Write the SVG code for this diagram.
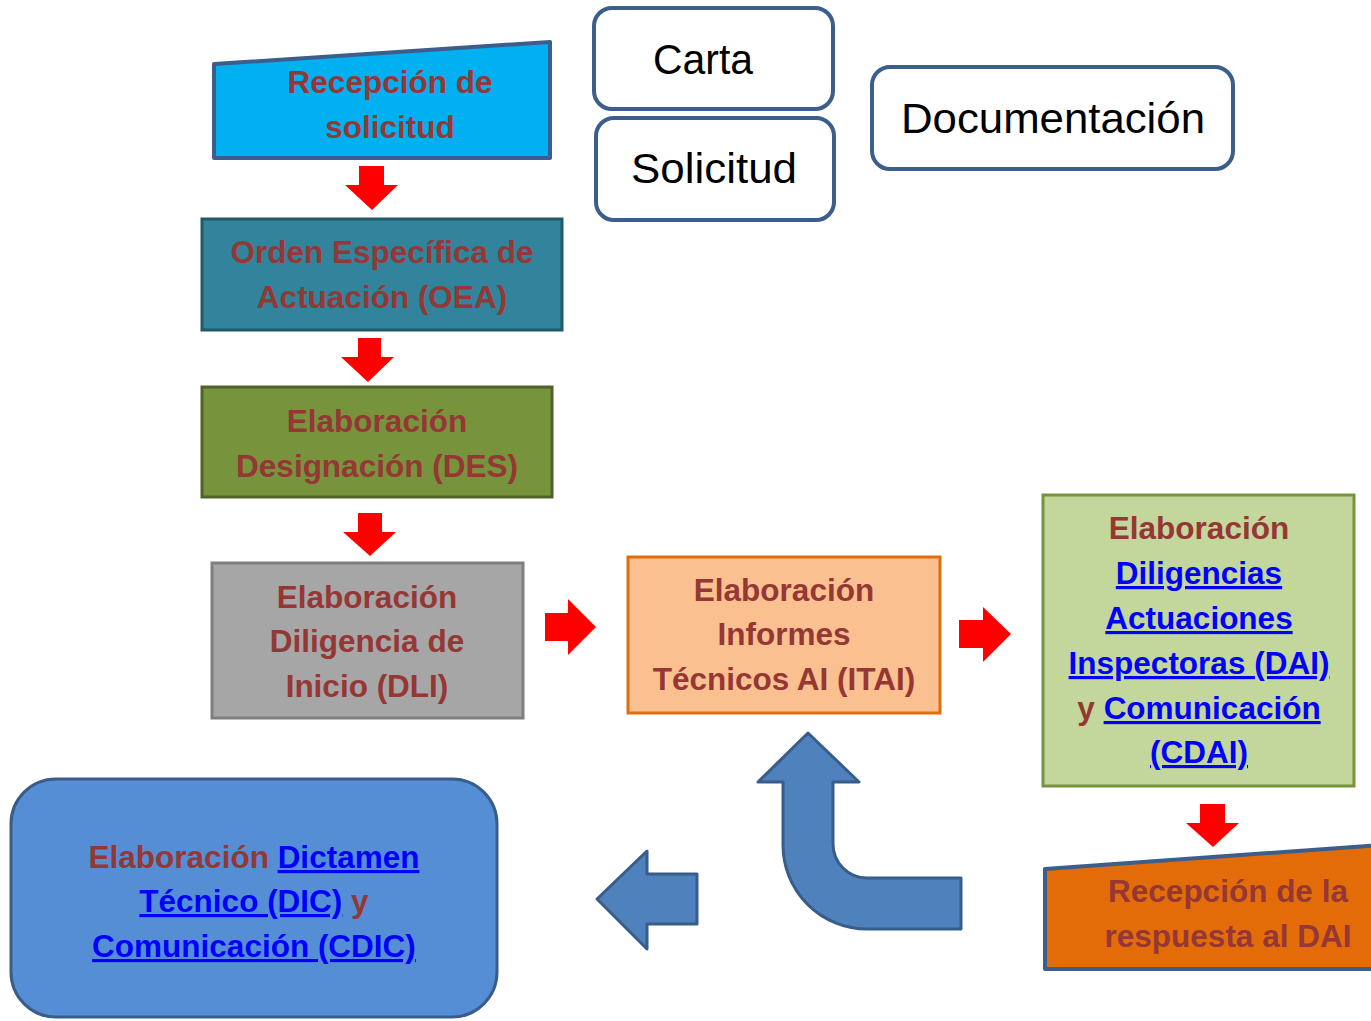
<svg xmlns="http://www.w3.org/2000/svg" width="1371" height="1021" viewBox="0 0 1371 1021">
<style>
.lbl{font-family:"Liberation Sans",Arial,sans-serif;font-weight:bold;font-size:31.5px;fill:#953735;text-anchor:middle}
.plain{font-family:"Liberation Sans",Arial,sans-serif;font-size:42px;fill:#000;text-anchor:middle}
.lnk{fill:#0000ff;text-decoration:underline}
.red{fill:#ff0000}
.doc{fill:#fff;stroke:#3b5e8c;stroke-width:4}
.blu{fill:#4f81bd;stroke:#385d8a;stroke-width:3;stroke-linejoin:round}
</style>
<rect width="1371" height="1021" fill="#fff"/>

<g id="connectors">
  <polygon class="red" points="359,166 384,166 384,185 398,185 372,210 345,185 359,185"/>
  <polygon class="red" points="358,338 381,338 381,357 394,357 368,382 341,357 358,357"/>
  <polygon class="red" points="358,513 382,513 382,532 396,532 370,556 343,532 358,532"/>
  <polygon class="red" points="545,613 568,613 568,599 596,627 568,655 568,641 545,641"/>
  <polygon class="red" points="959,620 983,620 983,607 1011,634 983,662 983,648 959,648"/>
  <polygon class="red" points="1200,804 1225,804 1225,823 1239,823 1213,847 1186,823 1200,823"/>
  <path class="blu" d="M808 733 L859 782 L833 782 L833 844 A34 34 0 0 0 867 878 L961 878 L961 929 L867 929 A84 84 0 0 1 783 845 L783 782 L758 782 Z"/>
  <polygon class="blu" points="597,899 647,851 647,874 697,874 697,924 647,924 647,949"/>
</g>

<g id="carta">
  <rect class="doc" x="594" y="8" width="239" height="101" rx="18"/>
  <text class="plain" x="703" y="74" textLength="100" lengthAdjust="spacingAndGlyphs">Carta</text>
</g>
<g id="solicitud">
  <rect class="doc" x="596" y="118" width="238" height="102" rx="18"/>
  <text class="plain" x="714" y="183" textLength="166" lengthAdjust="spacingAndGlyphs">Solicitud</text>
</g>
<g id="documentacion">
  <rect class="doc" x="872" y="67" width="361" height="102" rx="18"/>
  <text class="plain" x="1053" y="133" textLength="304" lengthAdjust="spacingAndGlyphs">Documentación</text>
</g>

<g id="recepcion-solicitud">
  <polygon points="214,64 550,42 550,158 214,158" fill="#00b0f0" stroke="#3b5e8c" stroke-width="4" stroke-linejoin="round"/>
  <text class="lbl" x="390" y="93">Recepción de</text>
  <text class="lbl" x="390" y="138">solicitud</text>
</g>

<g id="oea">
  <rect x="202" y="219" width="360" height="111" fill="#31849b" stroke="#215a68" stroke-width="3"/>
  <text class="lbl" x="382" y="263">Orden Específica de</text>
  <text class="lbl" x="382" y="308">Actuación (OEA)</text>
</g>

<g id="des">
  <rect x="202" y="387" width="350" height="110" fill="#77933c" stroke="#4f6228" stroke-width="3"/>
  <text class="lbl" x="377" y="432">Elaboración</text>
  <text class="lbl" x="377" y="477">Designación (DES)</text>
</g>

<g id="dli">
  <rect x="212" y="563" width="311" height="155" fill="#a6a6a6" stroke="#7f7f7f" stroke-width="3"/>
  <text class="lbl" x="367" y="608">Elaboración</text>
  <text class="lbl" x="367" y="652">Diligencia de</text>
  <text class="lbl" x="367" y="697">Inicio (DLI)</text>
</g>

<g id="itai">
  <rect x="628" y="557" width="312" height="156" fill="#fac090" stroke="#e46c0a" stroke-width="3"/>
  <text class="lbl" x="784" y="601">Elaboración</text>
  <text class="lbl" x="784" y="645">Informes</text>
  <text class="lbl" x="784" y="690">Técnicos AI (ITAI)</text>
</g>

<g id="dai">
  <rect x="1043" y="495" width="311" height="291" fill="#c3d69b" stroke="#77933c" stroke-width="3"/>
  <text class="lbl" x="1199" y="539">Elaboración</text>
  <text class="lbl" x="1199" y="584"><tspan class="lnk">Diligencias</tspan></text>
  <text class="lbl" x="1199" y="629"><tspan class="lnk">Actuaciones</tspan></text>
  <text class="lbl" x="1199" y="674"><tspan class="lnk">Inspectoras (DAI)</tspan></text>
  <text class="lbl" x="1199" y="719">y <tspan class="lnk">Comunicación</tspan></text>
  <text class="lbl" x="1199" y="763"><tspan class="lnk">(CDAI)</tspan></text>
</g>

<g id="recepcion-respuesta">
  <polygon points="1045,869 1380,845 1380,969 1045,969" fill="#e36c09" stroke="#3b5e8c" stroke-width="4" stroke-linejoin="round"/>
  <text class="lbl" x="1228" y="902">Recepción de la</text>
  <text class="lbl" x="1228" y="947">respuesta al DAI</text>
</g>

<g id="dic">
  <rect x="11" y="779" width="486" height="238" rx="45" fill="#558ed5" stroke="#385d8a" stroke-width="3"/>
  <text class="lbl" x="254" y="868">Elaboración <tspan class="lnk">Dictamen</tspan></text>
  <text class="lbl" x="254" y="912"><tspan class="lnk">Técnico (DIC)</tspan> y</text>
  <text class="lbl" x="254" y="957"><tspan class="lnk">Comunicación (CDIC)</tspan></text>
</g>
</svg>
